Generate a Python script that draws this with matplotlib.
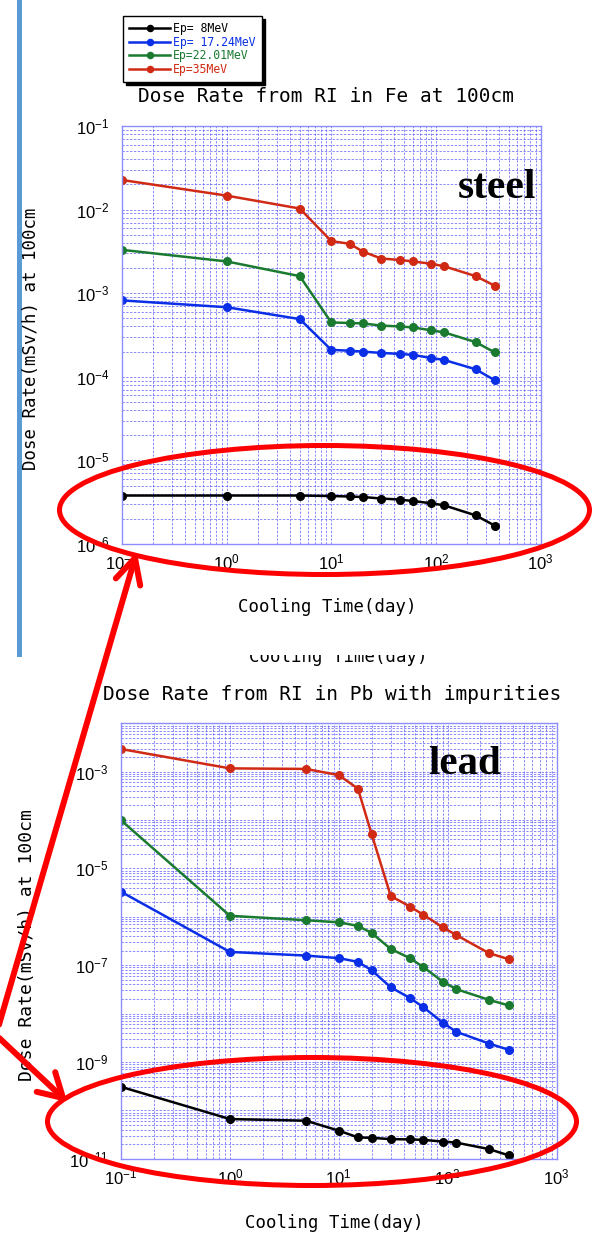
import numpy as np
import matplotlib
matplotlib.use("Agg")
import matplotlib.pyplot as plt
from matplotlib.patches import Ellipse, Rectangle
from matplotlib.ticker import LogLocator, FixedLocator, LogFormatterSciNotation, NullFormatter

plt.rcParams['font.family'] = ['Liberation Sans', 'DejaVu Sans']
plt.rcParams['mathtext.fontset'] = 'custom'
plt.rcParams['mathtext.rm'] = 'Liberation Sans'
plt.rcParams['mathtext.it'] = 'Liberation Sans:italic'
plt.rcParams['mathtext.bf'] = 'Liberation Sans:bold'
plt.rcParams['axes.unicode_minus'] = False

# cooling times (days)
days = [0.1, 1, 5, 10, 15, 20, 30, 45, 60, 90, 120, 240, 365]

# dose rate (mSv/h at 100cm), iron
fe_8 = [3.8e-6, 3.8e-6, 3.8e-6, 3.75e-6, 3.7e-6, 3.65e-6, 3.5e-6, 3.4e-6, 3.27e-6, 3.07e-6, 2.9e-6, 2.2e-6, 1.66e-6]
fe_17 = [8.2e-4, 6.8e-4, 4.9e-4, 2.1e-4, 2.05e-4, 2.0e-4, 1.93e-4, 1.88e-4, 1.83e-4, 1.68e-4, 1.59e-4, 1.23e-4, 9.1e-5]
fe_22 = [3.3e-3, 2.4e-3, 1.6e-3, 4.47e-4, 4.4e-4, 4.35e-4, 4.1e-4, 4.0e-4, 3.9e-4, 3.6e-4, 3.4e-4, 2.6e-4, 1.96e-4]
fe_35 = [2.26e-2, 1.47e-2, 1.03e-2, 4.2e-3, 3.9e-3, 3.15e-3, 2.6e-3, 2.5e-3, 2.4e-3, 2.25e-3, 2.1e-3, 1.6e-3, 1.23e-3]

# dose rate, lead with impurities
pb_8 = [3.06e-10, 6.6e-11, 6.1e-11, 3.8e-11, 2.76e-11, 2.7e-11, 2.54e-11, 2.5e-11, 2.45e-11, 2.26e-11, 2.15e-11, 1.58e-11, 1.17e-11]
pb_17 = [3.3e-6, 1.88e-7, 1.58e-7, 1.4e-7, 1.17e-7, 7.9e-8, 3.5e-8, 2.1e-8, 1.35e-8, 6.5e-9, 4.2e-9, 2.4e-9, 1.78e-9]
pb_22 = [9.9e-5, 1.05e-6, 8.5e-7, 7.7e-7, 6.5e-7, 4.65e-7, 2.17e-7, 1.4e-7, 9.1e-8, 4.6e-8, 3.2e-8, 1.92e-8, 1.47e-8]
pb_35 = [2.94e-3, 1.17e-3, 1.14e-3, 8.5e-4, 4.46e-4, 5.2e-5, 2.7e-6, 1.63e-6, 1.1e-6, 6.1e-7, 4.2e-7, 1.77e-7, 1.33e-7]

labels = ['Ep= 8MeV', 'Ep= 17.24MeV', 'Ep=22.01MeV', 'Ep=35MeV']
colors = ['#000000', '#0a2fe6', '#1a7a30', '#d02a14']

W, H = 597, 1242
fig = plt.figure(figsize=(W / 100, H / 100), dpi=100)
MONO = 'DejaVu Sans Mono'


def box(l, t, r, b):
    # pixel box (y down) -> figure fraction rect
    return [l / W, 1 - b / H, (r - l) / W, (b - t) / H]


def style(ax, ylim, yticks):
    ax.set_xscale('log')
    ax.set_yscale('log')
    ax.set_xlim(0.1, 1000)
    ax.set_ylim(*ylim)
    ax.xaxis.set_major_locator(FixedLocator([0.1, 1, 10, 100, 1000]))
    ax.xaxis.set_minor_locator(LogLocator(10, subs=np.arange(2, 10), numticks=50))
    ax.yaxis.set_major_locator(FixedLocator(yticks))
    ax.yaxis.set_minor_locator(LogLocator(10, subs=np.arange(1, 10), numticks=50))
    ax.xaxis.set_major_formatter(LogFormatterSciNotation())
    ax.yaxis.set_major_formatter(LogFormatterSciNotation())
    ax.xaxis.set_minor_formatter(NullFormatter())
    ax.yaxis.set_minor_formatter(NullFormatter())
    ax.grid(True, which='both', color='#5050ff', lw=0.55, ls=(0, (3, 2)), alpha=0.85)
    for s in ax.spines.values():
        s.set_color('#8c8cff')
        s.set_linewidth(1)
    ax.tick_params(which='both', length=0, labelsize=12)
    ax.tick_params(axis='x', pad=6)
    ax.tick_params(axis='y', pad=9)


ax1 = fig.add_axes(box(122, 126, 540.5, 544))
style(ax1, (1e-6, 1e-1), [1e-6, 1e-5, 1e-4, 1e-3, 1e-2, 1e-1])
for yv, c, lab in zip([fe_8, fe_17, fe_22, fe_35], colors, labels):
    ax1.plot(days, yv, color=c, lw=1.8, marker='o', ms=5.5, label=lab)

ax2 = fig.add_axes(box(121, 723.3, 556.5, 1158.7))
style(ax2, (1e-11, 1e-2), [1e-11, 1e-9, 1e-7, 1e-5, 1e-3])
for yv, c in zip([pb_8, pb_17, pb_22, pb_35], colors):
    ax2.plot(days, yv, color=c, lw=1.8, marker='o', ms=5.5)

h, l = ax1.get_legend_handles_labels()
leg = fig.legend(h, l, loc='upper left', bbox_to_anchor=(123 / W, 1 - 16 / H),
                 bbox_transform=fig.transFigure, borderaxespad=0,
                 prop={'family': MONO, 'size': 8.3}, labelcolor='linecolor',
                 handlelength=3.5, handletextpad=0.3, labelspacing=0.05,
                 borderpad=0.55, fancybox=False, edgecolor='black', framealpha=1,
                 shadow={'color': 'black', 'alpha': 1.0}, markerscale=0.8)
leg.get_frame().set_linewidth(1)

# overlay in pixel coordinates for slide decorations
ov = fig.add_axes([0, 0, 1, 1], zorder=10)
ov.set_xlim(0, W)
ov.set_ylim(H, 0)
ov.axis('off')
ov.patch.set_alpha(0)

ov.add_patch(Rectangle((17, 0), 5, 657, color='#5b9bd5', lw=0))

ov.text(326, 97, 'Dose Rate from RI in Fe at 100cm', ha='center', va='center',
        family=MONO, fontsize=14)
ov.text(332, 695, 'Dose Rate from RI in Pb with impurities', ha='center', va='center',
        family=MONO, fontsize=14)
ov.text(327, 607, 'Cooling Time(day)', ha='center', va='center', family=MONO, fontsize=12.5)
ov.text(334, 1223, 'Cooling Time(day)', ha='center', va='center', family=MONO, fontsize=12.5)
ov.text(31, 339, 'Dose Rate(mSv/h) at 100cm', ha='center', va='center', rotation=90,
        family=MONO, fontsize=12.5)
ov.text(27, 945, 'Dose Rate(mSv/h) at 100cm', ha='center', va='center', rotation=90,
        family=MONO, fontsize=13)

# ghost label from a hidden slide element, top part cut off
ov.text(338, 662, 'Cooling Time(day)', ha='center', va='baseline', family=MONO, fontsize=12.5)
ov.add_patch(Rectangle((200, 622), 290, 33, color='white', lw=0, zorder=3))

ov.text(536, 188, 'steel', ha='right', va='center', family='Liberation Serif',
        fontweight='bold', fontsize=30)
ov.text(428, 765, 'lead', ha='left', va='center', family='Liberation Serif',
        fontweight='bold', fontsize=29.5)

red = '#ff0000'
ov.add_patch(Ellipse((324.5, 510), 530, 129, fill=False, ec=red, lw=3.6, zorder=5))
ov.add_patch(Ellipse((312, 1121.5), 529, 128, fill=False, ec=red, lw=3.6, zorder=5))

pts = np.array([(135, 558), (-4, 1035), (63, 1098)], dtype=float)
ov.plot(pts[:, 0], pts[:, 1], color=red, lw=4.3, solid_joinstyle='miter',
        solid_capstyle='round', clip_on=False, zorder=6)


def head(tip, back, length=28, ang=27):
    d = back - tip
    d = d / np.hypot(*d)
    for s in (-1, 1):
        a = np.radians(ang * s)
        r = np.array([d[0] * np.cos(a) - d[1] * np.sin(a), d[0] * np.sin(a) + d[1] * np.cos(a)])
        w = tip + r * length
        ov.plot([w[0], tip[0]], [w[1], tip[1]], color=red, lw=4.3,
                solid_capstyle='round', clip_on=False, zorder=6)


head(pts[0], pts[1])
head(pts[2], pts[1], length=27, ang=30)

fig.savefig('out.png', dpi=100)
